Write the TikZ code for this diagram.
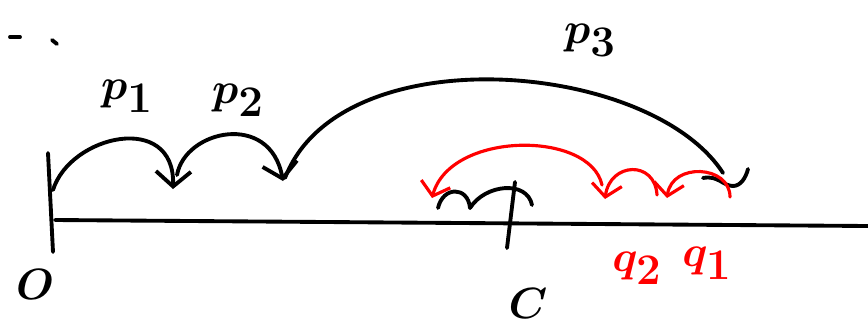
\documentclass[tikz,border=0pt]{standalone}
\usetikzlibrary{arrows.meta}

\begin{document}
\begin{tikzpicture}[
    x=0.02cm, y=-0.02cm,
    ink/.style={line width=2.2pt, line cap=round, line join=round},
    jump/.style={ink, -{Straight Barb[length=3mm, width=7mm]}},
    back/.style={ink, red, line width=1.8pt, -{Straight Barb[length=2.5mm, width=6mm]}},
    lab/.style={font=\fontsize{40}{46}\selectfont\boldmath, inner sep=0pt}
]
\useasboundingbox (0,0) rectangle (868,329);

% Number line with the two ticks
\coordinate (o) at (55,220);
\coordinate (far) at (868,226);
\coordinate (otop) at (48,153);
\coordinate (obot) at (53,252);
\coordinate (ctop) at (515,182);
\coordinate (cbot) at (507,248);
\draw[ink] (o) -- (far);
\draw[ink] (otop) -- (obot);
\draw[ink] (ctop) -- (cbot);

% Points on the line
\coordinate (s0) at (53,190);
\coordinate (a1) at (173,189);
\coordinate (s1) at (177,175);
\coordinate (a2) at (283,181);
\coordinate (s2) at (285,178);
\coordinate (a3) at (723,173);
\coordinate (q1) at (730,197);
\coordinate (q1b) at (667,198);
\coordinate (s3) at (657,195);
\coordinate (q2) at (605,199);
\coordinate (s4) at (602,185);
\coordinate (l) at (432,198);

% Forward jumps
\draw[jump] (s0) .. controls +(17,-55) and +(2,-78) .. (a1);
\draw[jump] (s1) .. controls +(8,-45) and +(-13,-70) .. (a2);
\draw[ink] (s2) .. controls +(55,-143) and +(-73,-113) .. (a3);
\coordinate (h0) at (703,178);
\coordinate (h1) at (733,186);
\coordinate (h2) at (748,169);
\draw[ink] (h0) .. controls +(15,-3) and +(-10,0) .. (h1) .. controls +(8,0) and +(-2,8) .. (h2);

% Small jumps around C
\coordinate (b0) at (438,208);
\coordinate (b1) at (470,208);
\coordinate (b2) at (532,205);
\draw[ink] (b0) .. controls +(5,-22) and +(-2,-22) .. (b1);
\draw[ink] (b1) .. controls +(15,-24) and +(-5,-25) .. (b2);

% Jumps back
\draw[back] (q1) .. controls +(0,-32) and +(5,-36) .. (q1b);
\draw[back] (s3) .. controls +(-2,-35) and +(5,-37) .. (q2);
\draw[back] (s4) .. controls +(-12,-55) and +(18,-67) .. (l);

% Labels
\node[lab] (p1) at (127,96) {$p_1$};
\node[lab] (p2) at (238,100) {$p_2$};
\node[lab] (p3) at (590,40) {$p_3$};
\node[lab] (zero) at (35,284) {$O$};
\node[lab] (cc) at (528,303) {$C$};
\node[lab, red] (lq2) at (637,268) {$q_2$};
\node[lab, red] (lq1) at (707,263) {$q_1$};

% Stray marks
\coordinate (m0) at (10,37);
\coordinate (m1) at (20,37);
\coordinate (m2) at (52,40);
\coordinate (m3) at (57,44);
\draw[ink] (m0) -- (m1);
\draw[ink] (m2) -- (m3);

\end{tikzpicture}
\end{document}
